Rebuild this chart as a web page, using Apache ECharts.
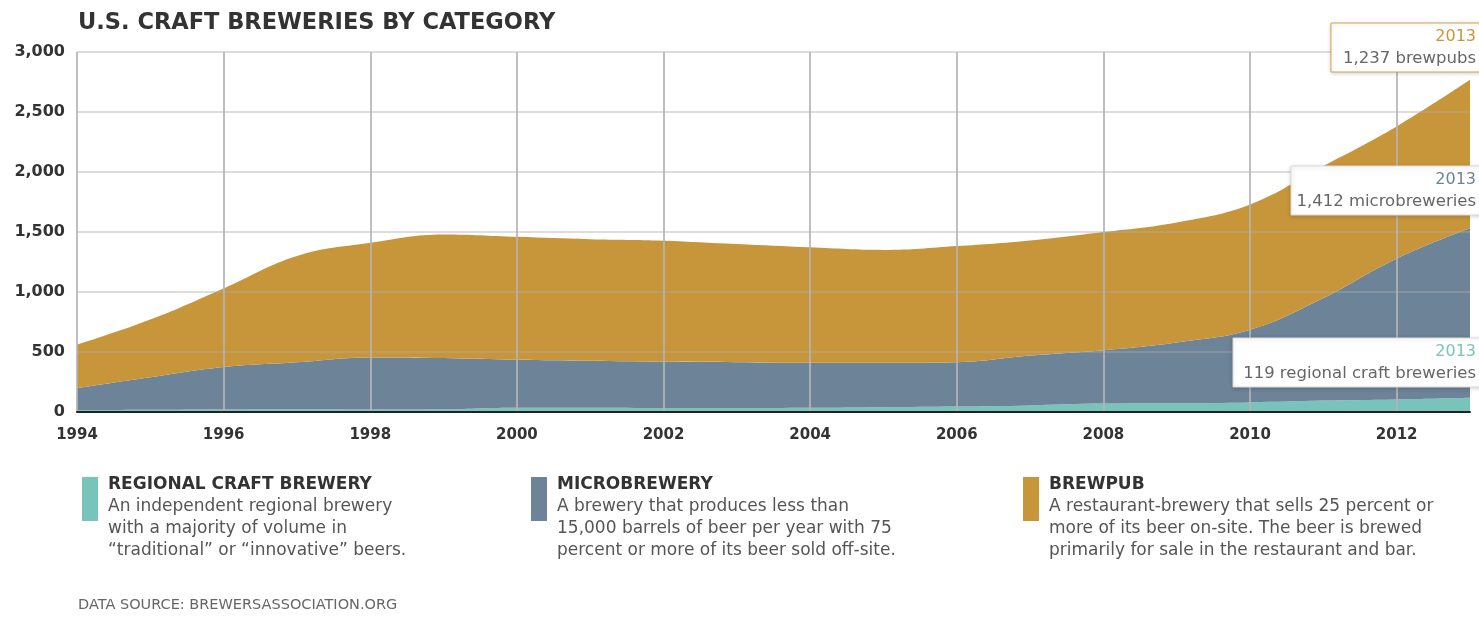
<!DOCTYPE html>
<html>
<head>
<meta charset="utf-8">
<script src="https://cdn.jsdelivr.net/npm/echarts@6/dist/echarts.min.js"></script>
<style>
html,body{margin:0;padding:0;background:#fff;}
#chart{width:1479px;height:617px;}
</style>
</head>
<body>
<div id="chart"></div>
<script>
const years = ['1994','1995','1996','1997','1998','1999','2000','2001','2002','2003','2004','2005','2006','2007','2008','2009','2010','2011','2012','2013'];
const regional = [15,18,20,22,20,22,35,35,33,33,35,40,45,55,70,72,80,95,105,119];
const micro = [185,272,355,393,435,428,400,393,387,382,375,370,370,415,445,508,605,855,1175,1412];
const brewpub = [360,480,655,885,955,1030,1025,1012,1008,985,962,940,968,960,985,1000,1045,1100,1100,1237];
const yTicks = [0,500,1000,1500,2000,2500,3000];

const FONT = '"DejaVu Sans", Verdana, sans-serif';
const colors = {regional:'#78C4BA', micro:'#6D8398', brewpub:'#C8963A'};

const chart = echarts.init(document.getElementById('chart'));

function legendBlock(x, color, title, lines){
  const children = [
    {type:'rect', shape:{x:x, y:477, width:16, height:44}, style:{fill:color}},
    {type:'text', style:{x:x+26, y:485, text:title, font:'bold 17px ' + FONT, fill:'#333', verticalAlign:'middle'}}
  ];
  lines.forEach((l,i)=>{
    children.push({type:'text', style:{x:x+26, y:507+i*22, text:l, font:'17px ' + FONT, fill:'#555', verticalAlign:'middle'}});
  });
  return {type:'group', children};
}

function annot(left, top, border, yearColor, label){
  return {type:'group', children:[
    {type:'rect', shape:{x:left, y:top, width:1479-left+4, height:49}, style:{fill:'#fff', stroke:border, lineWidth:1, shadowBlur:4, shadowColor:'rgba(0,0,0,0.18)', shadowOffsetY:1}, z:100},
    {type:'text', style:{x:1476, y:top+14, text:'2013', font:'16px ' + FONT, fill:yearColor, align:'right', verticalAlign:'middle'}, z:101},
    {type:'text', style:{x:1476, y:top+36, text:label, font:'16.5px ' + FONT, fill:'#666', align:'right', verticalAlign:'middle'}, z:101}
  ]};
}

const areaSeries = (name, data, color) => ({
  name, type:'line', stack:'total', data, smooth:0.4,
  symbol:'none', lineStyle:{width:0}, areaStyle:{color, opacity:1}, itemStyle:{color}, z:2
});

chart.setOption({
  animation:false,
  title:{text:'U.S. CRAFT BREWERIES BY CATEGORY', left:73, top:7,
    textStyle:{fontFamily:FONT, fontWeight:'bold', fontSize:22.5, color:'#333'}},
  grid:{left:77, right:9, top:52, bottom:205, containLabel:false},
  xAxis:{type:'category', data:years, boundaryGap:false, z:10,
    axisLine:{show:true, lineStyle:{color:'#222', width:2}},
    axisTick:{show:false},
    axisLabel:{interval:1, margin:16, color:'#333', fontFamily:FONT, fontWeight:'bold', fontSize:15},
    splitLine:{show:true, interval:1, lineStyle:{color:'rgba(180,180,180,0.85)', width:2}}
  },
  yAxis:{type:'value', min:0, max:3000, interval:500, z:10,
    axisLine:{show:false}, axisTick:{show:false},
    axisLabel:{margin:12, color:'#333', fontFamily:FONT, fontWeight:'bold', fontSize:16,
      formatter:v => yTicks.includes(v) ? v.toLocaleString('en-US') : ''},
    splitLine:{show:true, lineStyle:{color:'rgba(170,170,170,0.4)', width:2}}
  },
  series:[
    areaSeries('Regional craft brewery', regional, colors.regional),
    areaSeries('Microbrewery', micro, colors.micro),
    areaSeries('Brewpub', brewpub, colors.brewpub)
  ],
  graphic:[
    annot(1331, 23, '#D2A64E', '#C8963A', '1,237 brewpubs'),
    annot(1291, 166, '#dcdcdc', '#6D8398', '1,412 microbreweries'),
    annot(1233, 338, '#dcdcdc', '#78C4BA', '119 regional craft breweries'),
    legendBlock(82, colors.regional, 'REGIONAL CRAFT BREWERY', ['An independent regional brewery','with a majority of volume in','\u201Ctraditional\u201D or \u201Cinnovative\u201D beers.']),
    legendBlock(531, colors.micro, 'MICROBREWERY', ['A brewery that produces less than','15,000 barrels of beer per year with 75','percent or more of its beer sold off-site.']),
    legendBlock(1023, colors.brewpub, 'BREWPUB', ['A restaurant-brewery that sells 25 percent or','more of its beer on-site. The beer is brewed','primarily for sale in the restaurant and bar.']),
    {type:'text', style:{x:78, y:605, text:'DATA SOURCE: BREWERSASSOCIATION.ORG', font:'14.5px ' + FONT, fill:'#666', verticalAlign:'middle'}}
  ]
});
</script>
</body>
</html>
